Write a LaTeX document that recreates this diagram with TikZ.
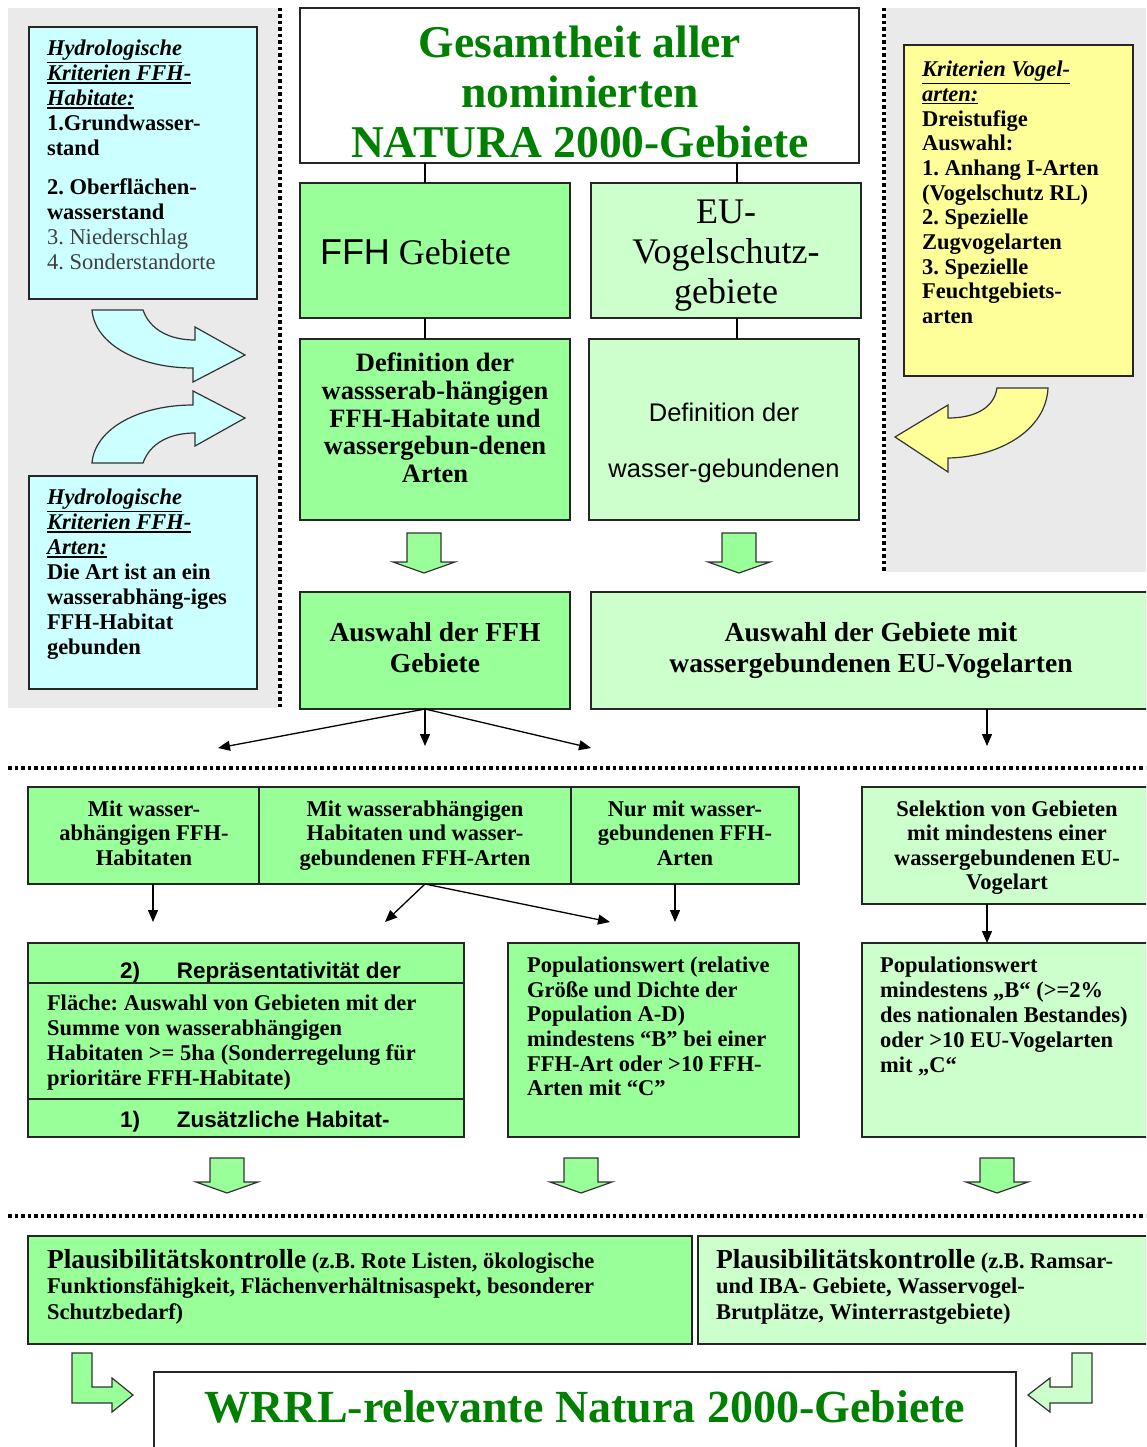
\documentclass[tikz,border=0pt]{standalone}
\usepackage{fontspec}
\setmainfont{Liberation Serif}
\newfontfamily\arial{Liberation Sans}
\usetikzlibrary{arrows.meta}
\definecolor{bggray}{HTML}{EAEAEA}
\definecolor{cyanbox}{HTML}{CCFFFF}
\definecolor{yelbox}{HTML}{FFFF99}
\definecolor{gA}{HTML}{99FF99}
\definecolor{gB}{HTML}{CCFFCC}
\definecolor{titlegreen}{HTML}{008000}
\definecolor{txtgray}{HTML}{404040}
\frenchspacing
\newcommand{\fsz}[2]{\fontsize{#1}{#2}\selectfont}
\newcommand{\hd}[1]{\vtop{\hbox{\textbf{\textit{#1}}}\kern1.2pt\hrule height 1.6pt}}
\newcommand{\bx}[6][box]{\node[#1, minimum width={#5-#3}, minimum height={#6-#4}] (#2) at ({(#3+#5)/2},{(#4+#6)/2}) {};}
\newcommand{\darrow}[4]{\draw[blockarrow, fill=#4] (#1-17,#2) -- (#1+17,#2) -- (#1+17,#3-11) -- (#1+31,#3-11) -- (#1,#3) -- (#1-31,#3-11) -- (#1-17,#3-11) -- cycle;}
\begin{document}
\begin{tikzpicture}[x=1pt,y=-1pt,
  box/.style={draw=black!85, line width=2.2pt, inner sep=0pt, outer sep=0pt},
  boxA/.style={box, fill=gA}, boxB/.style={box, fill=gB}, boxW/.style={box, fill=white},
  boxC/.style={box, fill=cyanbox}, boxY/.style={box, fill=yelbox},
  txt/.style={inner sep=0pt, outer sep=0pt, text=black},
  conn/.style={draw=black, line width=1.3pt, -{Triangle[length=12pt,width=10pt]}},
  plain/.style={draw=black, line width=1.6pt},
  blockarrow/.style={draw=black!80, line width=1.2pt},
  dotline/.style={draw=black, line width=3.5pt, dash pattern=on 3.5pt off 3pt}]
\useasboundingbox (0,0) rectangle (1146,1447);
\clip (0,0) rectangle (1146,1447);
% gray panels
\fill[bggray] (8,8) rectangle (278,708);
\fill[bggray] (886,8) rectangle (1146,572);
\draw[dotline] (280,8) -- (280,708);
\draw[dotline] (884,8) -- (884,572);
\draw[dotline] (8,768) -- (1146,768);
\draw[dotline] (8,1216) -- (1146,1216);
% boxes
\bx[boxC]{cy1}{29}{27}{257}{299}
\bx[boxC]{cy2}{29}{476}{257}{689}
\bx[boxY]{yel}{904}{45}{1133}{376}
\bx[boxW]{title}{300}{8}{859}{163}
\bx[boxA]{ffh}{300}{183}{570}{318}
\bx[boxB]{eu}{591}{183}{861}{318}
\bx[boxA]{defl}{300}{339}{570}{520}
\bx[boxB]{defr}{589}{339}{859}{520}
\bx[boxA]{ausl}{300}{592}{570}{709}
\bx[boxB]{ausr}{591}{592}{1152}{709}
\bx[boxA]{r1a}{28}{787}{259}{884}
\bx[boxA]{r1b}{259}{787}{571}{884}
\bx[boxA]{r1c}{571}{787}{799}{884}
\bx[boxB]{sel}{862}{787}{1152}{904}
\bx[boxA]{rep}{28}{943}{464}{1137}
\bx[boxA]{popl}{508}{943}{799}{1137}
\bx[boxB]{popr}{862}{943}{1152}{1137}
\bx[boxA]{plal}{28}{1236}{692}{1344}
\bx[boxB]{plar}{698}{1236}{1152}{1344}
\bx[boxW]{wrrl}{154}{1372}{1016}{1460}
% curved arrows
\draw[blockarrow, fill=cyanbox] (92,310) -- (143,310) .. controls (150,330) and (170,340) .. (195,340) -- (195,327) -- (245,355) -- (193,382) -- (193,368) .. controls (140,368) and (95,345) .. (92,310) -- cycle;
\draw[blockarrow, fill=cyanbox] (92,463) -- (143,463) .. controls (150,443) and (170,433) .. (195,433) -- (195,446) -- (245,418) -- (193,391) -- (193,405) .. controls (140,405) and (95,428) .. (92,463) -- cycle;
\draw[blockarrow, fill=yelbox] (997,388) -- (1048,388) .. controls (1046,430) and (1000,457) .. (948,458) -- (948,472) -- (895,437) -- (948,405) -- (948,418) .. controls (975,418) and (994,408) .. (997,388) -- cycle;
% block arrows
\darrow{424}{533}{573}{gA}
\darrow{739}{533}{573}{gA}
\darrow{227}{1158}{1193}{gA}
\darrow{581}{1158}{1193}{gA}
\darrow{997}{1158}{1193}{gA}
\draw[blockarrow, fill=gA] (72,1353) -- (92,1353) -- (92,1387) -- (112,1387) -- (112,1378) -- (133,1395) -- (112,1412) -- (112,1403) -- (72,1403) -- cycle;
\draw[blockarrow, fill=gB] (1092,1353) -- (1072,1353) -- (1072,1387) -- (1050,1387) -- (1050,1378) -- (1028,1395) -- (1050,1412) -- (1050,1403) -- (1092,1403) -- cycle;
% connectors
\coordinate (xl) at (425,0);
\coordinate (xr) at (737,0);
\draw[plain] (title.south -| xl) -- (ffh.north -| xl);
\draw[plain] (title.south -| xr) -- (eu.north -| xr);
\draw[plain] (ffh.south -| xl) -- (defl.north -| xl);
\draw[plain] (eu.south -| xr) -- (defr.north -| xr);
\coordinate (a1) at (218,748);
\coordinate (a2) at (425,746);
\coordinate (a3) at (591,748);
\coordinate (a4) at (987,746);
\draw[conn] (ausl.south -| xl) -- (a1);
\draw[conn] (ausl.south -| xl) -- (a2);
\draw[conn] (ausl.south -| xl) -- (a3);
\draw[conn] (ausr.south -| a4) -- (a4);
\coordinate (b1) at (153,922);
\coordinate (b2) at (385,922);
\coordinate (b3) at (610,922);
\coordinate (b4) at (675,922);
\draw[conn] (r1a.south -| b1) -- (b1);
\draw[conn] (r1b.south -| xl) -- (b2);
\draw[conn] (r1b.south -| xl) -- (b3);
\draw[conn] (r1c.south -| b4) -- (b4);
\draw[conn] (sel.south -| a4) -- (popr.north -| a4);
% texts
\node[txt, anchor=north west, align=left, font=\fsz{22.5}{25}\bfseries] (tcy1) at (47,40) {\hd{Hydrologische}\\\hd{Kriterien FFH-}\\\hd{Habitate:}\\1.Grundwasser-\\stand\\[14pt]2. Oberflächen-\\wasserstand\\{\mdseries\color{txtgray}3. Niederschlag}\\{\mdseries\color{txtgray}4. Sonderstandorte}};
\node[txt, anchor=north west, align=left, font=\fsz{22.5}{25}\bfseries] (tcy2) at (47,489) {\hd{Hydrologische}\\\hd{Kriterien FFH-}\\\hd{Arten:}\\Die Art ist an ein\\wasserabhäng-iges\\FFH-Habitat\\gebunden};
\node[txt, anchor=north west, align=left, font=\fsz{22.5}{24.7}\bfseries] (tyel) at (922,61) {\hd{Kriterien Vogel-}\\\hd{arten:}\\Dreistufige\\Auswahl:\\1. Anhang I-Arten\\(Vogelschutz RL)\\2. Spezielle\\Zugvogelarten\\3. Spezielle\\Feuchtgebiets-\\arten};
\node[txt, anchor=north, align=center, text=titlegreen, font=\fsz{45.5}{50}\bfseries] (ttitle) at (580,26) {Gesamtheit aller\\nominierten\\NATURA 2000-Gebiete};
\node[txt, anchor=base west, font=\fsz{36}{40}] (tffh) at (320,264) {{\arial FFH} Gebiete};
\node[txt, anchor=north, align=center, font=\fsz{36}{40}] (teu) at (726,200) {EU-\\Vogelschutz-\\gebiete};
\node[txt, anchor=north, align=center, font=\fsz{26.5}{27.75}\bfseries] (tdefl) at (435,353) {Definition der\\wassserab-hängigen\\FFH-Habitate und\\wassergebun-denen\\Arten};
\node[txt, anchor=north, align=center, font=\fsz{25.5}{56}\arial] (tdefr) at (724,403.5) {Definition der\\wasser-gebundenen};
\node[txt, anchor=north, align=center, font=\fsz{27.5}{31}\bfseries] (tausl) at (435,622) {Auswahl der FFH\\Gebiete};
\node[txt, anchor=north, align=center, font=\fsz{27.5}{31}\bfseries] (tausr) at (871,622) {Auswahl der Gebiete mit\\wassergebundenen EU-Vogelarten};
\node[txt, anchor=north, align=center, font=\fsz{22.5}{24.5}\bfseries] (tr1a) at (144,800.7) {Mit wasser-\\abhängigen FFH-\\Habitaten};
\node[txt, anchor=north, align=center, font=\fsz{22.5}{24.5}\bfseries] (tr1b) at (415,800.7) {Mit wasserabhängigen\\Habitaten und wasser-\\gebundenen FFH-Arten};
\node[txt, anchor=north, align=center, font=\fsz{22.5}{24.5}\bfseries] (tr1c) at (685,800.7) {Nur mit wasser-\\gebundenen FFH-\\Arten};
\node[txt, anchor=north, align=center, font=\fsz{22.5}{24.5}\bfseries] (tsel) at (1007,800.7) {Selektion von Gebieten\\mit mindestens einer\\wassergebundenen EU-\\Vogelart};
\begin{scope}
\clip (28,943) rectangle (464,981);
\node[txt, anchor=base west, font=\fsz{22.5}{25}\arial\bfseries] (trep2) at (120,978) {\makebox[57pt][l]{2)}Repräsentativität der};
\end{scope}
\coordinate (rl1) at (0,983);
\coordinate (rl2) at (0,1099);
\draw[box] (rep.west |- rl1) -- (rep.east |- rl1);
\draw[box] (rep.west |- rl2) -- (rep.east |- rl2);
\node[txt, anchor=north west, align=left, font=\fsz{22.5}{25}\bfseries] (trep) at (47,994.7) {Fläche: Auswahl von Gebieten mit der\\Summe von wasserabhängigen\\Habitaten >= 5ha (Sonderregelung für\\prioritäre FFH-Habitate)};
\node[txt, anchor=base west, font=\fsz{22.5}{25}\arial\bfseries] (trep1) at (120,1127) {\makebox[57pt][l]{1)}Zusätzliche Habitat-};
\node[txt, anchor=north west, align=left, font=\fsz{22.5}{24.7}\bfseries] (tpopl) at (527,956.7) {Populationswert (relative\\Größe und Dichte der\\Population A-D)\\mindestens “B” bei einer\\FFH-Art oder >10 FFH-\\Arten mit “C”};
\node[txt, anchor=north west, align=left, font=\fsz{22.5}{25}\bfseries] (tpopr) at (880,956.7) {Populationswert\\mindestens „B“ (>=2\%\\des nationalen Bestandes)\\oder >10 EU-Vogelarten\\mit „C“};
\node[txt, anchor=north west, align=left, font=\fsz{22.5}{25.5}\bfseries] (tplal) at (47,1249.4) {{\fsz{27.5}{25.5}Plausibilitätskontrolle} (z.B. Rote Listen, ökologische\\Funktionsfähigkeit, Flächenverhältnisaspekt, besonderer\\Schutzbedarf)};
\node[txt, anchor=north west, align=left, font=\fsz{22.5}{25.5}\bfseries] (tplar) at (716,1249.4) {{\fsz{27.5}{25.5}Plausibilitätskontrolle} (z.B. Ramsar-\\und IBA- Gebiete, Wasservogel-\\Brutplätze, Winterrastgebiete)};
\node[txt, anchor=base, font=\fsz{46}{50}\bfseries, text=titlegreen] (twrrl) at (585,1422) {WRRL-relevante Natura 2000-Gebiete};
\end{tikzpicture}
\end{document}
